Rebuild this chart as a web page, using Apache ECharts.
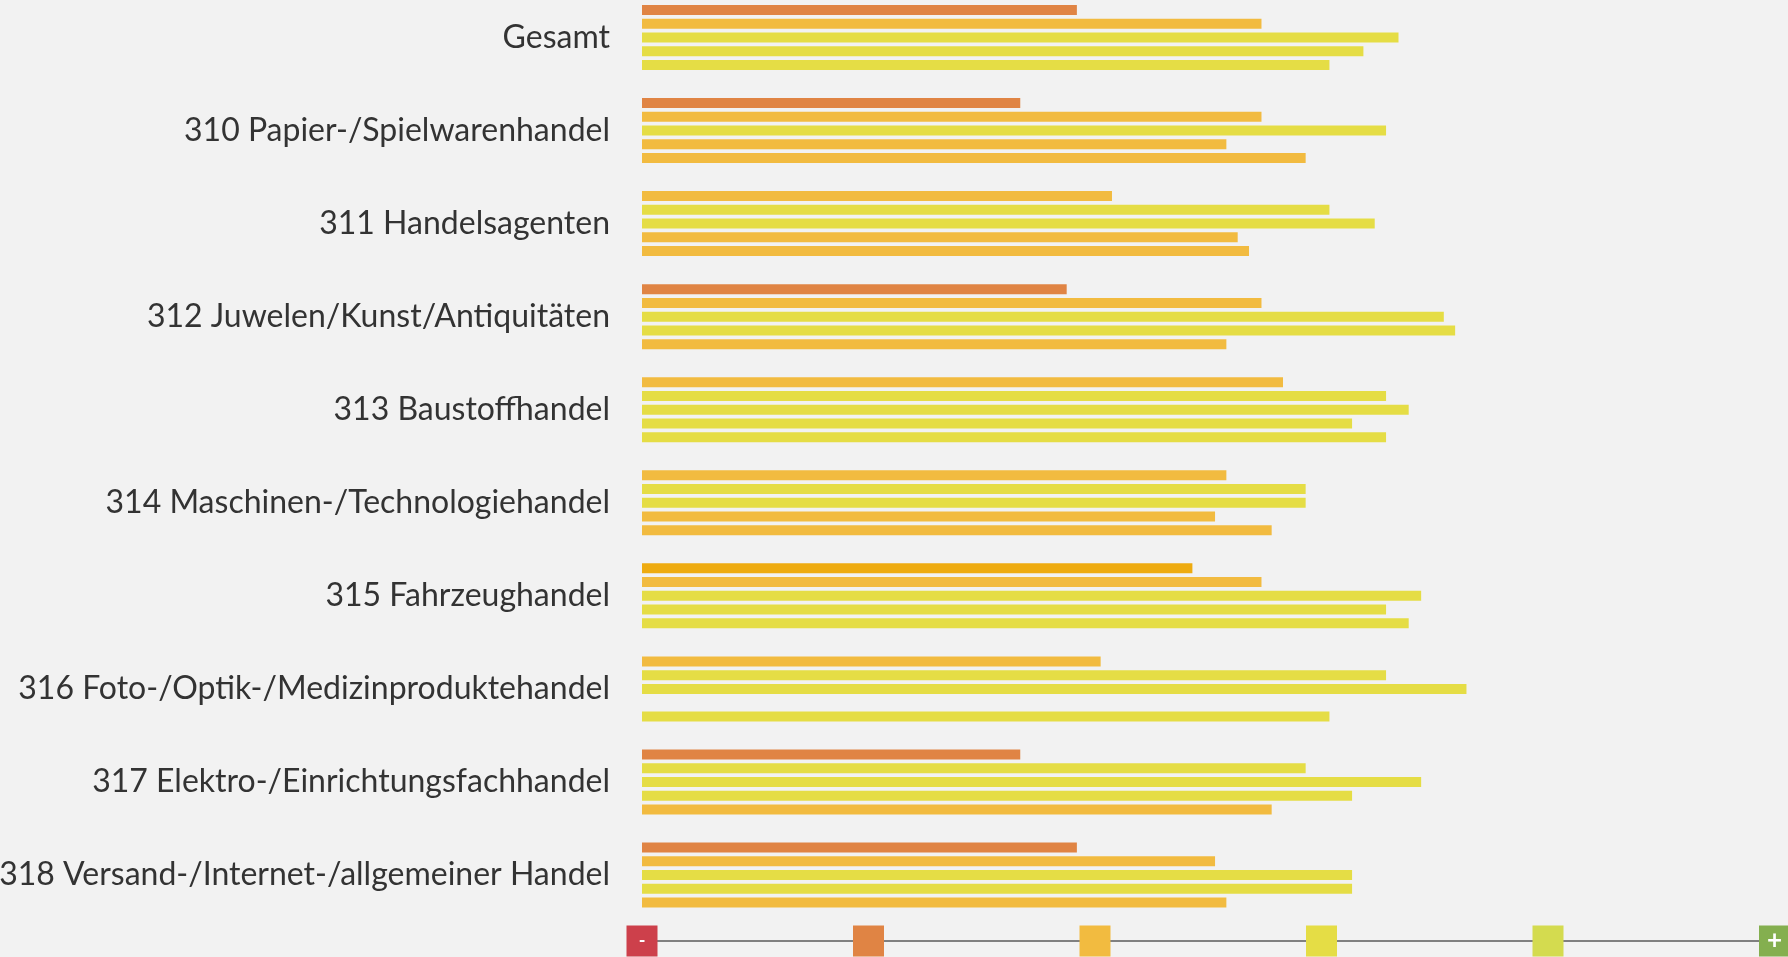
<!DOCTYPE html>
<html>
<head>
<meta charset="utf-8">
<script src="https://cdn.jsdelivr.net/npm/echarts@6/dist/echarts.min.js"></script>
<style>
html,body{margin:0;padding:0;background:#F2F2F2;}
#c{width:1788px;height:957px;}
</style>
</head>
<body>
<div id="c"></div>
<script>
const categories = [
  'Gesamt',
  '310 Papier-/Spielwarenhandel',
  '311 Handelsagenten',
  '312 Juwelen/Kunst/Antiquitäten',
  '313 Baustoffhandel',
  '314 Maschinen-/Technologiehandel',
  '315 Fahrzeughandel',
  '316 Foto-/Optik-/Medizinproduktehandel',
  '317 Elektro-/Einrichtungsfachhandel',
  '318 Versand-/Internet-/allgemeiner Handel'
];
// five bars per category (top to bottom)
const series1 = [38.4, 33.4, 41.5, 37.5, 56.6, 51.6, 48.6, 40.5, 33.4, 38.4];
const series2 = [54.7, 54.7, 60.7, 54.7, 65.7, 58.6, 54.7, 65.7, 58.6, 50.6];
const series3 = [66.8, 65.7, 64.7, 70.8, 67.7, 58.6, 68.8, 72.8, 68.8, 62.7];
const series4 = [63.7, 51.6, 52.6, 71.8, 62.7, 50.6, 65.7, null, 62.7, 62.7];
const series5 = [60.7, 58.6, 53.6, 51.6, 65.7, 55.6, 67.7, 60.7, 55.6, 51.6];
// rating grade of each bar: o = orange, y = amber, g = yellow, h = highlighted
const grades1 = ['o','o','y','o','y','y','h','y','o','o'];
const grades2 = ['y','y','g','y','g','g','y','g','g','y'];
const grades3 = ['g','g','g','g','g','g','g','g','g','g'];
const grades4 = ['g','y','y','g','g','y','g','g','g','g'];
const grades5 = ['g','y','y','y','g','y','g','g','y','y'];
const tickValues = [0, 20, 40, 60, 80, 100];
const tickLabels = ['-', '', '', '', '', '+'];

const gradeColors = { o: '#E08444', y: '#F2BB40', g: '#E5DD45', h: '#EEAB10' };
const tickColors = ['#CD404B', '#E08444', '#F2BB40', '#E5DD45', '#D4DB4F', '#84AF4F'];

const rich = {};
tickColors.forEach((c, i) => {
  rich['t' + i] = {
    backgroundColor: c, width: 31, height: 31, lineHeight: 31, align: 'center',
    color: '#ffffff', fontFamily: 'Lato', fontWeight: 'bold',
    fontSize: i === tickColors.length - 1 ? 26 : 18
  };
});

const allSeries = [series1, series2, series3, series4, series5];
const allGrades = [grades1, grades2, grades3, grades4, grades5];

const chart = echarts.init(document.getElementById('c'), null, { renderer: 'canvas' });
chart.setOption({
  backgroundColor: '#F2F2F2',
  animation: false,
  grid: { left: 642, right: 13.5, top: 37.5, height: 837.5, containLabel: false, outerBoundsMode: 'none' },
  xAxis: {
    type: 'value', min: 0, max: 100, interval: 20, position: 'bottom', offset: 66,
    axisLine: { show: true, lineStyle: { color: '#808080', width: 2 } },
    axisTick: { show: false },
    splitLine: { show: false },
    axisLabel: {
      show: true, margin: 0, verticalAlign: 'middle', showMinLabel: true, showMaxLabel: true,
      hideOverlap: false,
      formatter: function (v) {
        const i = tickValues.indexOf(v);
        if (i < 0) return '';
        const t = tickLabels[i] === '' ? ' ' : tickLabels[i];
        return '{t' + i + '|' + t + '}';
      },
      rich: rich
    }
  },
  yAxis: {
    type: 'category', data: categories, inverse: true, boundaryGap: false,
    axisLine: { show: false }, axisTick: { show: false },
    axisLabel: { fontFamily: 'Lato', fontSize: 32, color: '#333333', margin: 32 }
  },
  series: allSeries.map((arr, si) => ({
    type: 'bar',
    barWidth: 10,
    barGap: '37.5%',
    data: arr.map((v, ci) => v === null ? null : ({ value: v, itemStyle: { color: gradeColors[allGrades[si][ci]] } }))
  }))
});
</script>
</body>
</html>
